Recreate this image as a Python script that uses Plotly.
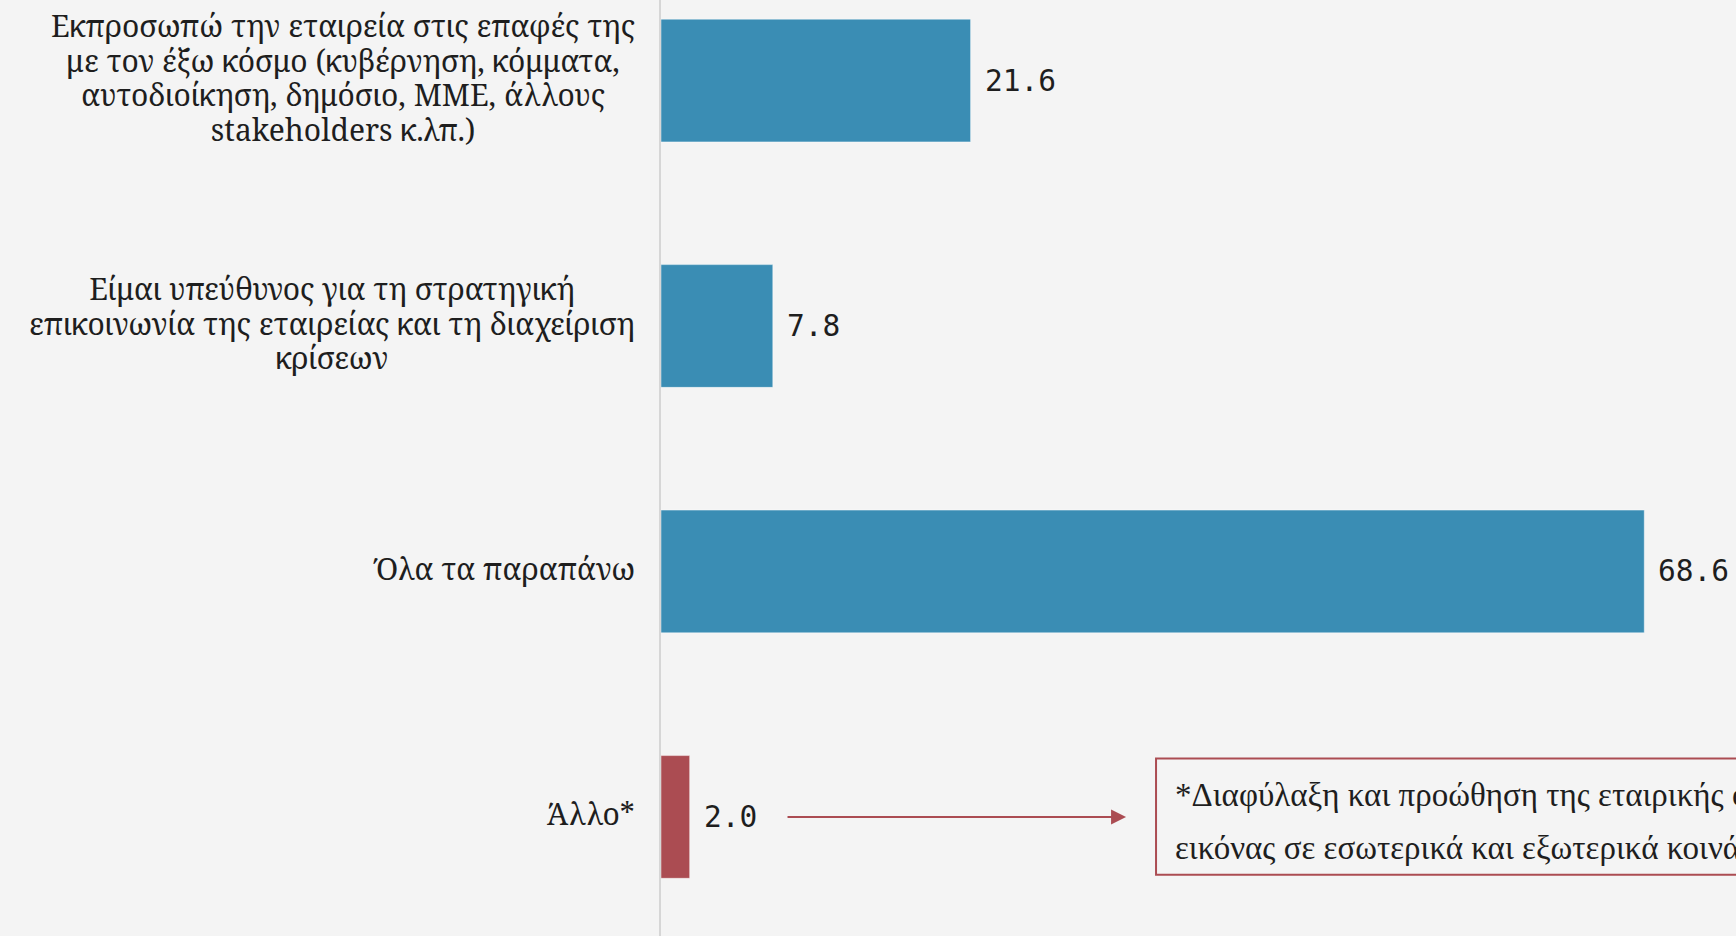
import plotly.graph_objects as go

categories = [
    "Εκπροσωπώ την εταιρεία στις επαφές της<br>με τον έξω κόσμο (κυβέρνηση, κόμματα,<br>αυτοδιοίκηση, δημόσιο, ΜΜΕ, άλλους<br>stakeholders κ.λπ.)",
    "Είμαι υπεύθυνος για τη στρατηγική<br>επικοινωνία της εταιρείας και τη διαχείριση<br>κρίσεων",
    "Όλα τα παραπάνω",
    "Άλλο*",
]
values = [21.6, 7.8, 68.6, 2.0]
bar_colors = ["#3a8db4", "#3a8db4", "#3a8db4", "#ab4c52"]
note_lines = [
    "*Διαφύλαξη και προώθηση της εταιρικής φήμης και",
    "εικόνας σε εσωτερικά και εξωτερικά κοινά",
]

BG = "#f4f4f4"
RED = "#ab4c52"
cat_ids = list(range(len(categories)))


def styled(label, px):
    return "<br>".join(f"<span style='font-size:{px}px'>{ln}</span>" for ln in label.split("<br>"))


fig = go.Figure()
fig.add_trace(go.Bar(
    x=values, y=cat_ids, orientation="h", width=0.5,
    marker=dict(color=bar_colors, line=dict(color="rgba(255,255,255,0.45)", width=1)),
    hoverinfo="skip",
))

annotations = []
for i, (c, v) in enumerate(zip(categories, values)):
    annotations.append(dict(
        x=0, xref="paper", y=i, yref="y", text=styled(c, 30), showarrow=False,
        xanchor="right", yanchor="middle", align="center", xshift=-24, yshift=3,
        font=dict(family="Noto Serif, Droid Serif, DejaVu Serif, serif", size=26.7, color="#1e1e1e"),
    ))
    annotations.append(dict(
        x=v, xref="x", y=i, yref="y", text=f"{v:.1f}", showarrow=False,
        xanchor="left", yanchor="middle", xshift=12,
        font=dict(family="DejaVu Sans Mono, monospace", size=29.5, color="#1e1e1e"),
    ))

# arrow from "Άλλο" value to note box
annotations.append(dict(
    x=0.4326, xref="x domain", y=3, yref="y",
    ax=0.1163, axref="x domain", ay=3, ayref="y",
    text="", showarrow=True, arrowhead=2, arrowsize=1.5, arrowwidth=2, arrowcolor=RED,
))
note_y = [0.1506, 0.094]
for line, yy in zip(note_lines, note_y):
    annotations.append(dict(
        x=0.4763, xref="paper", y=yy, yref="paper", text=line, showarrow=False,
        xanchor="left", yanchor="middle",
        font=dict(family="Liberation Serif, Times New Roman, serif", size=33, color="#1e1e1e"),
    ))

fig.update_layout(
    width=1736, height=936,
    margin=dict(l=661, r=0, t=0, b=0),
    paper_bgcolor=BG, plot_bgcolor=BG,
    showlegend=False,
    xaxis=dict(range=[0, 75], showgrid=False, zeroline=False, showticklabels=False, showline=False),
    yaxis=dict(range=[3.485, -0.328], showgrid=False, zeroline=False, showticklabels=False,
               showline=True, linecolor="#d6d6d6", linewidth=2, ticks=""),
    annotations=annotations,
    shapes=[dict(type="rect", xref="paper", yref="paper", x0=0.4605, x1=1.35, y0=0.0655, y1=0.1896,
                 line=dict(color=RED, width=2), fillcolor="rgba(0,0,0,0)")],
)

fig.write_html(
    "out.html",
    config={"displayModeBar": False},
    post_script="document.body.style.margin='0';document.body.style.background='#f4f4f4';document.body.style.overflow='hidden';",
)
